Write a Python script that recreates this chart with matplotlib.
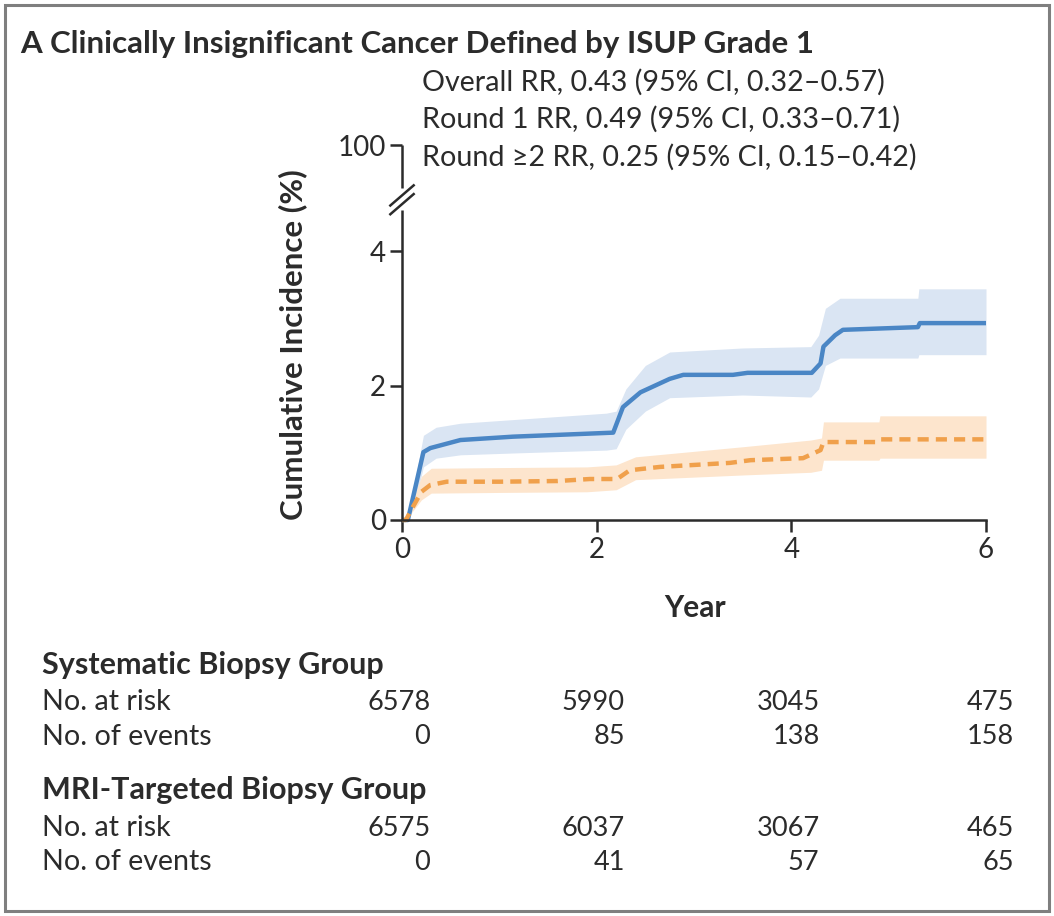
import matplotlib
matplotlib.use("Agg")
import matplotlib.pyplot as plt
from matplotlib.patches import Rectangle
from matplotlib.transforms import blended_transform_factory

# cumulative incidence curves (years, %)
sys_t = [0, 0.06, 0.22, 0.29, 0.6, 1.14, 1.83, 2.17, 2.27, 2.45, 2.75, 2.89, 3.4, 3.55, 4.21, 4.3, 4.33, 4.45, 4.53, 5.3, 5.32, 6.0]
sys_ci = [0, 0, 1.01, 1.07, 1.19, 1.24, 1.28, 1.30, 1.68, 1.90, 2.10, 2.16, 2.16, 2.19, 2.19, 2.33, 2.58, 2.75, 2.83, 2.87, 2.93, 2.93]
sys_band_t = [0.06, 0.18, 0.22, 0.35, 0.6, 1.2, 2.1, 2.2, 2.3, 2.5, 2.75, 3.5, 4.2, 4.28, 4.35, 4.5, 5.3, 5.31, 6.0]
sys_hi = [0, 0.95, 1.26, 1.38, 1.44, 1.50, 1.59, 1.62, 1.95, 2.30, 2.50, 2.56, 2.58, 2.75, 3.15, 3.30, 3.30, 3.44, 3.44]
sys_lo = [0, 0.55, 0.79, 0.92, 0.97, 1.00, 1.04, 1.06, 1.35, 1.62, 1.82, 1.86, 1.83, 1.95, 2.30, 2.41, 2.41, 2.46, 2.46]

mri_t = [0, 0.04, 0.11, 0.2, 0.29, 0.46, 1.0, 1.6, 1.93, 2.21, 2.34, 2.65, 3.37, 3.58, 4.12, 4.3, 4.33, 4.88, 4.91, 6.0]
mri_ci = [0, 0, 0.19, 0.42, 0.52, 0.57, 0.57, 0.58, 0.61, 0.61, 0.74, 0.79, 0.85, 0.89, 0.92, 1.04, 1.16, 1.16, 1.20, 1.20]
mri_band_t = [0.04, 0.2, 0.3, 1.0, 1.9, 2.2, 2.4, 3.5, 4.2, 4.31, 4.33, 4.9, 4.91, 6.0]
mri_hi = [0, 0.65, 0.77, 0.78, 0.79, 0.82, 0.94, 1.09, 1.19, 1.22, 1.46, 1.46, 1.55, 1.55]
mri_lo = [0, 0.30, 0.40, 0.41, 0.42, 0.45, 0.60, 0.67, 0.71, 0.74, 0.89, 0.89, 0.92, 0.92]

# risk table
table_years = [0, 2, 4, 6]
sys_at_risk = ["6578", "5990", "3045", "475"]
sys_events = ["0", "85", "138", "158"]
mri_at_risk = ["6575", "6037", "3067", "465"]
mri_events = ["0", "41", "57", "65"]

stats_lines = [
    "Overall RR, 0.43 (95% CI, 0.32\u20130.57)",
    "Round 1 RR, 0.49 (95% CI, 0.33\u20130.71)",
    "Round \u22652 RR, 0.25 (95% CI, 0.15\u20130.42)",
]

plt.rcParams["font.family"] = ["Lato", "DejaVu Sans"]
W, H = 1054, 916
ink = "#2b2b2b"
blue, blue_band = "#4a86c5", "#dae5f3"
orange, orange_band = "#f0a04b", "#fde5cd"


def fx(px):
    return px / W


def fy(py):
    return 1 - py / H


fig = plt.figure(figsize=(W / 100, H / 100), dpi=100)
fig.patches.append(Rectangle((fx(5), fy(911)), fx(1044), 906 / H, transform=fig.transFigure,
                             fill=False, edgecolor="#7f7f7f", linewidth=2.2))

ax = fig.add_axes([fx(402), fy(520), fx(584), 375 / H])
ytop = (520 - 145) / 67.2
ax.set_xlim(0, 6)
ax.set_ylim(0, ytop)

ax.fill_between(sys_band_t, sys_lo, sys_hi, color=blue_band, linewidth=0, clip_on=False)
ax.fill_between(mri_band_t, mri_lo, mri_hi, color=orange_band, linewidth=0, clip_on=False)
ax.plot(sys_t, sys_ci, color=blue, lw=3.2, solid_capstyle="butt", clip_on=False)
ax.plot(mri_t, mri_ci, color=orange, lw=3.2, dashes=(2.5, 1.6), clip_on=False)

for s in ["top", "right", "left"]:
    ax.spines[s].set_visible(False)
ax.spines["bottom"].set_linewidth(1.8)
ax.spines["bottom"].set_color(ink)

ax.set_xticks(table_years)
ax.set_yticks([0, 2, 4, ytop])
ax.set_yticklabels(["0", "2", "4", "100"])
ax.tick_params(axis="both", length=8.5, width=1.8, color=ink, labelsize=20, labelcolor=ink)
ax.tick_params(axis="x", pad=4)
ax.tick_params(axis="y", pad=3)

# broken y axis
ax.plot([0, 0], [0, 4.62], color=ink, lw=1.8, clip_on=False, solid_capstyle="butt")
ax.plot([0, 0], [4.94, ytop], color=ink, lw=1.8, clip_on=False, solid_capstyle="butt")
bt = blended_transform_factory(ax.transAxes, ax.transData)
for y0 in [4.55, 4.68]:
    ax.plot([-0.02, 0.02], [y0, y0 + 0.3], color=ink, lw=1.8, transform=bt, clip_on=False)

fig.text(fx(293), fy(345), "Cumulative Incidence (%)", rotation=90, ha="center", va="center",
         fontsize=22.5, fontweight="bold", color=ink)
fig.text(fx(695), fy(608), "Year", ha="center", va="center", fontsize=21.5, fontweight="bold", color=ink)

fig.text(fx(20), fy(44), "A", ha="left", va="center", fontsize=22.5, fontweight="bold", color=ink)
fig.text(fx(50), fy(44), "Clinically Insignificant Cancer Defined by ISUP Grade 1", ha="left",
         va="center", fontsize=22.5, fontweight="bold", color=ink)

for i, line in enumerate(stats_lines):
    fig.text(fx(422), fy(82 + i * 37.5), line, ha="left", va="center", fontsize=20.6, color=ink)

# number at risk table
rows = [
    (665, "Systematic Biopsy Group", None),
    (702, "No. at risk", sys_at_risk),
    (737, "No. of events", sys_events),
    (790, "MRI-Targeted Biopsy Group", None),
    (828, "No. at risk", mri_at_risk),
    (862, "No. of events", mri_events),
]
tt = blended_transform_factory(ax.transData, fig.transFigure)
for py, label, vals in rows:
    if vals is None:
        fig.text(fx(42), fy(py), label, ha="left", va="center", fontsize=22, fontweight="bold", color=ink)
        continue
    fig.text(fx(42), fy(py), label, ha="left", va="center", fontsize=20.6, color=ink)
    for yr, v in zip(table_years, vals):
        fig.text(yr + 0.29, fy(py), v, transform=tt, ha="right", va="center", fontsize=19.5, color=ink)

fig.savefig("out.png", dpi=100)
